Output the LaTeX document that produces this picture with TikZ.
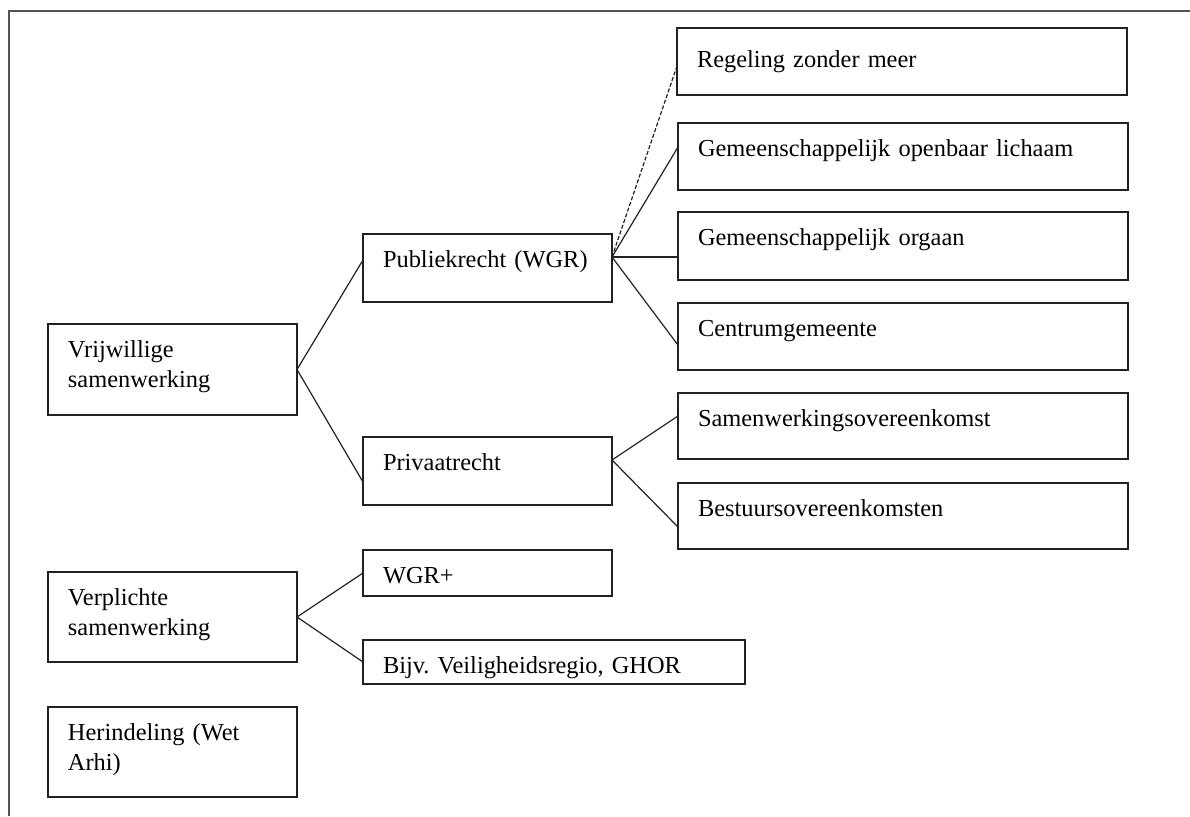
\documentclass[tikz,border=0pt]{standalone}
\usepackage{fontspec}
\setmainfont{Liberation Serif}
\definecolor{LineClr}{rgb}{0.13,0.13,0.13}
\definecolor{FrameClr}{rgb}{0.33,0.33,0.33}

\begin{document}
\begin{tikzpicture}[x=.5pt,y=-.5pt,
  box/.style={draw=LineClr,line width=.8pt,anchor=north west,outer sep=0pt,
    inner xsep=10pt,inner ysep=0pt,align=left,text height=16.5pt,
    font=\fontsize{12.2}{15}\selectfont},
  small/.style={box,text width=104.5pt},
  wide/.style={box,text width=205pt},
  tie/.style={LineClr,line width=.6pt}]
\useasboundingbox (0,0) rectangle (1190,816);
\draw[FrameClr,line width=1pt] (9,816) -- (9,11) -- (1190,11);

\node[small,text depth=29pt] (VS) at (48,324) {Vrijwillige\\samenwerking};
\node[small,text depth=17.5pt] (PR) at (363,234) {Publiekrecht (WGR)};
\node[small,text depth=17.5pt] (PV) at (363,437) {Privaatrecht};

\node[wide,text height=19.5pt,text depth=14pt] (RZ) at (677,28) {Regeling zonder meer};
\node[wide,text depth=17pt] (GOL) at (678,123) {Gemeenschappelijk openbaar lichaam};
\node[wide,text depth=17.5pt] (GO) at (678,212) {Gemeenschappelijk orgaan};
\node[wide,text depth=17pt] (CG) at (678,303) {Centrumgemeente};
\node[wide,text depth=16.5pt] (SO) at (678,393) {Samenwerkingsovereenkomst};
\node[wide,text depth=16.5pt] (BO) at (678,483) {Bestuursovereenkomsten};

\node[small,text depth=28.5pt] (VP) at (48,572) {Verplichte\\samenwerking};
\node[small,text depth=6.5pt] (WP) at (363,550) {WGR+};
\node[box,text width=171pt,text depth=5.5pt] (BV) at (363,640) {Bijv.\ Veiligheidsregio, GHOR};

\node[small,text depth=28.5pt] (HA) at (48,707) {Herindeling (Wet\\Arhi)};

\draw[tie] (VS.east) -- ([yshift=4pt]PR.west);
\draw[tie] (VS.east) -- ([yshift=-5.5pt]PV.west);

\draw[tie,dash pattern=on 2pt off 1pt] ([yshift=5.5pt]PR.east) -- ([yshift=-2.25pt]RZ.west);
\draw[tie] ([yshift=5.5pt]PR.east) -- ([yshift=4.75pt]GOL.west);
\draw[tie] ([yshift=5.5pt]PR.east) -- ([yshift=-5.5pt]GO.west);
\draw[tie] ([yshift=5.5pt]PR.east) -- ([yshift=-4.25pt]CG.west);

\draw[tie] ([yshift=5.5pt]PV.east) -- ([yshift=5pt]SO.west);
\draw[tie] ([yshift=5.5pt]PV.east) -- ([yshift=-5.5pt]BO.west);

\draw[tie] (VP.east) -- (WP.west);
\draw[tie] (VP.east) -- (BV.west);

\end{tikzpicture}
\end{document}
